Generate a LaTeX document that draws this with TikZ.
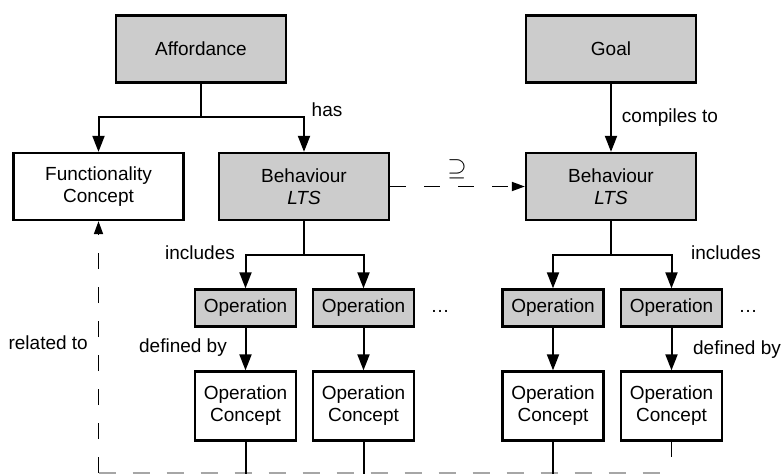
\documentclass[tikz,border=0pt]{standalone}
\usepackage{fontspec}
\setmainfont{Liberation Sans}
\usetikzlibrary{arrows.meta}
\begin{document}
\begin{tikzpicture}[x=1pt,y=-1pt,
  font=\fontsize{19}{22}\selectfont,
  box/.style={draw=black, line width=2.3pt, align=center, inner sep=0pt},
  gbox/.style={box, fill=black!20},
  big/.style={minimum width=170pt, minimum height=67pt},
  opbox/.style={minimum width=101pt, minimum height=37pt},
  ocbox/.style={minimum width=101pt, minimum height=69pt},
  conn/.style={line width=2pt},
  arr/.style={conn, -{Triangle[width=12pt,length=16pt]}},
  darr/.style={line width=1.7pt, dash pattern=on 16pt off 18pt, -{Triangle[width=9pt,length=13pt]}},
  lbl/.style={inner sep=0pt}
]
\useasboundingbox (0,0) rectangle (782,474);
% nodes
\node[gbox,big] (aff) at (201,49) {Affordance};
\node[gbox,big] (goal) at (611,49) {Goal};
\node[box,big] (func) at (98.5,186.5) {Functionality\\Concept};
\node[gbox,big] (beh1) at (304,186.5) {Behaviour\\\textit{LTS}};
\node[gbox,big] (beh2) at (611,186.5) {Behaviour\\\textit{LTS}};
\node[gbox,opbox] (op1) at (245.5,308) {Operation};
\node[gbox,opbox] (op2) at (363.5,308) {Operation};
\node[gbox,opbox] (op3) at (553,308) {Operation};
\node[gbox,opbox] (op4) at (671.5,308) {Operation};
\node[box,ocbox] (oc1) at (245.5,406) {Operation\\Concept};
\node[box,ocbox] (oc2) at (363.5,406) {Operation\\Concept};
\node[box,ocbox] (oc3) at (553,406) {Operation\\Concept};
\node[box,ocbox] (oc4) at (671.5,406) {Operation\\Concept};
% labels
\node[lbl] (has) at (327,110) {has};
\node[lbl] (comp) at (670,118) {compiles to};
\node[lbl] (sup) at (457,169) {\fontsize{24}{24}\selectfont$\supseteq$};
\node[lbl] (inc1) at (200,253) {includes};
\node[lbl] (inc2) at (726,253) {includes};
\node[lbl] (def1) at (183,348) {defined by};
\node[lbl] (def2) at (737,350) {defined by};
\node[lbl,anchor=east] (rel) at (88,343) {related to};
\node[lbl] (dots1) at (440,311) {\dots};
\node[lbl] (dots2) at (748,311) {\dots};
% coordinates
\coordinate (j1) at (aff.south |- 0,117);
\coordinate (j2) at (beh1.south |- 0,255);
\coordinate (j3) at (beh2.south |- 0,255);
\coordinate (b1) at (oc1.south |- 0,474);
\coordinate (b2) at (oc2.south |- 0,474);
\coordinate (b3) at (oc3.south |- 0,474);
\coordinate (b4) at (oc4.south |- 0,457);
\coordinate (rb) at (func.south |- 0,473);
\coordinate (re) at (oc4.south |- 0,473);
% bottom grey dashed line
\draw[line width=1.8pt, black!35, dash pattern=on 17pt off 17pt] (rb) -- (re);
% connectors
\draw[conn] (aff.south) -- (j1);
\draw[arr] (j1) -| (func.north);
\draw[arr] (j1) -| (beh1.north);
\draw[arr] (goal.south) -- (beh2.north);
\draw[conn] (beh1.south) -- (j2);
\draw[arr] (j2) -| (op1.north);
\draw[arr] (j2) -| (op2.north);
\draw[conn] (beh2.south) -- (j3);
\draw[arr] (j3) -| (op3.north);
\draw[arr] (j3) -| (op4.north);
\draw[arr] (op1.south) -- (oc1.north);
\draw[arr] (op2.south) -- (oc2.north);
\draw[arr] (op3.south) -- (oc3.north);
\draw[arr] (op4.south) -- (oc4.north);
\draw[conn] (oc1.south) -- (b1);
\draw[conn] (oc2.south) -- (b2);
\draw[conn] (oc3.south) -- (b3);
\draw[line width=1pt] (oc4.south) -- (b4);
\draw[darr] (beh1.east) -- (beh2.west);
\draw[darr] (rb) -- (func.south);
\end{tikzpicture}
\end{document}
